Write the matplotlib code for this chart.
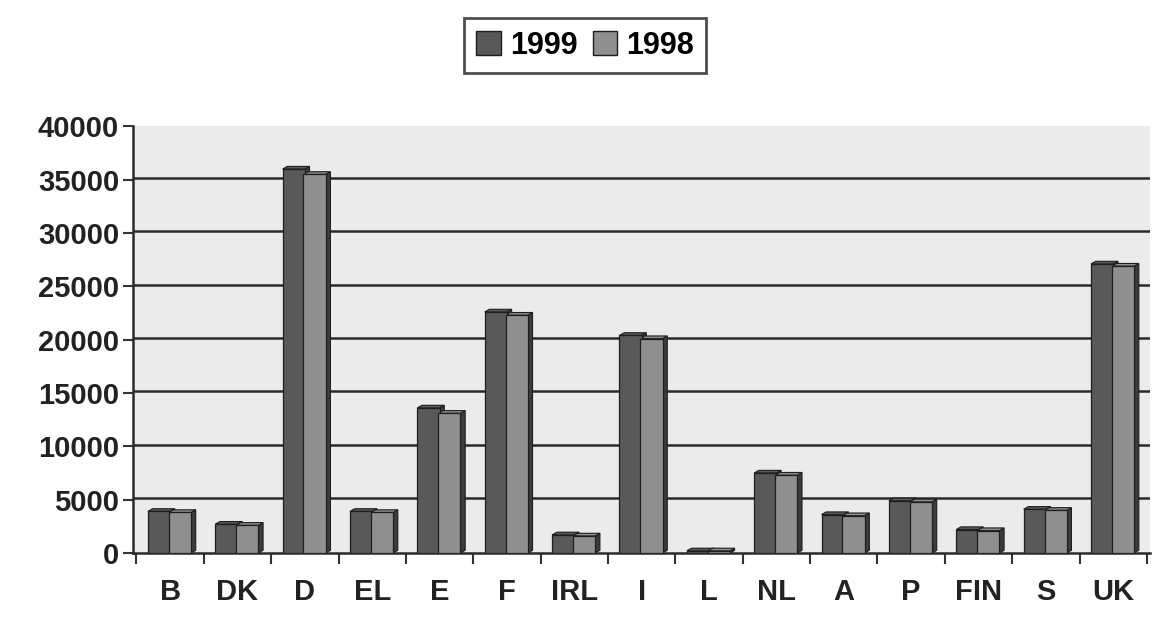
import numpy as np
import matplotlib.pyplot as plt
from matplotlib.patches import Patch

# -------------------------------
# Data
# -------------------------------
countries = ["B", "DK", "D", "EL", "E", "F", "IRL", "I", "L", "NL", "A", "P", "FIN", "S", "UK"]
values_1999 = [3900, 2700, 36000, 3900, 13600, 22600, 1700, 20400, 200, 7500, 3600, 4900, 2200, 4100, 27100]
values_1998 = [3800, 2600, 35500, 3800, 13100, 22300, 1600, 20100, 200, 7300, 3500, 4800, 2100, 4000, 26900]
series_names = ["1999", "1998"]
y_ticks = [0, 5000, 10000, 15000, 20000, 25000, 30000, 35000, 40000]

plt.rcParams["font.family"] = ["Liberation Sans", "DejaVu Sans"]
plt.rcParams["font.weight"] = "bold"

dark = "#595959"
light = "#8f8f8f"
edge = "#1e1e1e"

fig = plt.figure(figsize=(11.52, 6.32), dpi=100)
ax = fig.add_axes([0.1155, 0.125, 0.883, 0.675])
ax.set_facecolor("#ebebeb")

x = np.arange(len(countries))
w = 0.33
dx = 0.07     # depth of the fake 3D effect (category units)
dy = 250      # depth in value units

# gridlines
for t in y_ticks[1:-1]:
    ax.axhline(t + 150, color="#2a2a2a", lw=1.8, zorder=1)


def draw_bar(xc, h, color):
    left = xc - w / 2
    right = xc + w / 2
    # side face
    ax.fill([right, right + dx, right + dx, right], [0, dy, h + dy, h],
            color="#3c3c3c", ec=edge, lw=0.8, zorder=2)
    # top face
    ax.fill([left, left + dx, right + dx, right], [h, h + dy, h + dy, h],
            color=color, ec=edge, lw=0.8, zorder=2)
    ax.bar(xc, h, width=w, color=color, edgecolor=edge, lw=0.9, zorder=3)


for i in range(len(countries)):
    draw_bar(x[i] - w / 2, values_1999[i], dark)
    draw_bar(x[i] + w / 2 - 0.02, values_1998[i], light)

ax.set_xlim(-0.55, len(countries) - 0.45)
ax.set_ylim(0, 40000)
ax.set_yticks(y_ticks)
ax.set_yticklabels([str(t) for t in y_ticks], fontsize=21, fontweight="bold", color="#222222")

ax.set_xticks(x)
ax.set_xticklabels(countries, fontsize=21, fontweight="bold", color="#222222")
ax.tick_params(axis="x", length=0, pad=18)
ax.set_xticks(np.arange(len(countries) + 1) - 0.5, minor=True)
ax.tick_params(axis="x", which="minor", length=8, width=1.5, color="#333333", direction="out")
ax.tick_params(axis="y", length=7, width=1.5, color="#333333", direction="out", pad=3)

for s in ["top", "right"]:
    ax.spines[s].set_visible(False)
ax.spines["left"].set_linewidth(1.8)
ax.spines["left"].set_color("#2a2a2a")
ax.spines["bottom"].set_linewidth(1.8)
ax.spines["bottom"].set_color("#2a2a2a")

handles = [Patch(facecolor=dark, edgecolor=edge), Patch(facecolor=light, edgecolor=edge)]
leg = fig.legend(handles, series_names, loc="center", bbox_to_anchor=(0.508, 0.928),
                 ncol=2, frameon=True, fancybox=False, edgecolor="#222222",
                 prop={"size": 22, "weight": "bold"}, handlelength=0.8, handleheight=0.8,
                 handletextpad=0.3, columnspacing=0.5, borderpad=0.4)
leg.get_frame().set_linewidth(2)

fig.savefig("out.png", dpi=100)
